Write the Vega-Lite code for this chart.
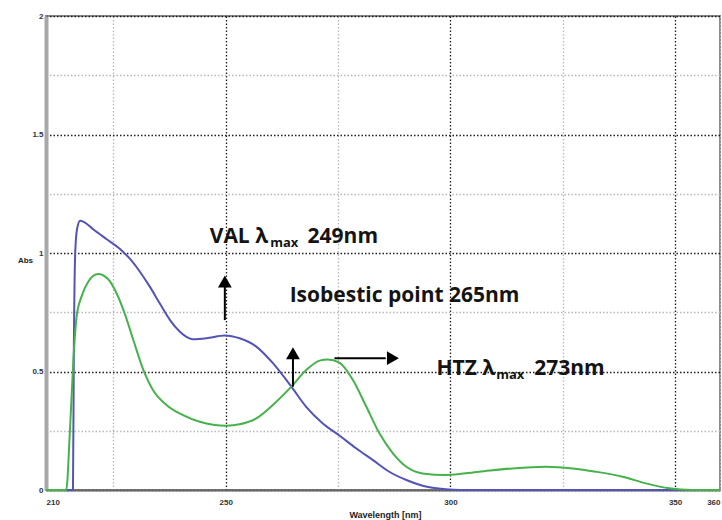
{
  "$schema": "https://vega.github.io/schema/vega-lite/v6.json",
  "width": 674,
  "height": 474,
  "autosize": {"type": "none"},
  "padding": {"left": 46, "top": 16, "right": 2, "bottom": 30},
  "background": "white",
  "config": {
    "view": {"stroke": "#8a8a8a", "strokeWidth": 2},
    "axis": {"labelFont": "Liberation Sans", "labelFontWeight": "bold", "labelFontSize": 8, "labelColor": "#333", "titleFont": "Liberation Sans", "titleFontWeight": "bold", "titleColor": "#222", "titleFontSize": 9}
  },
  "datasets": {
    "spectra": [
      {"wl": 210, "abs": 0, "drug": "VAL"},
      {"wl": 216.0, "abs": 0, "drug": "VAL"},
      {"wl": 216.2, "abs": 0.6, "drug": "VAL"},
      {"wl": 216.5, "abs": 1.0, "drug": "VAL"},
      {"wl": 216.9, "abs": 1.1, "drug": "VAL"},
      {"wl": 217.6, "abs": 1.136, "drug": "VAL"},
      {"wl": 218.5, "abs": 1.13, "drug": "VAL"},
      {"wl": 220.5, "abs": 1.1, "drug": "VAL"},
      {"wl": 223.5, "abs": 1.058, "drug": "VAL"},
      {"wl": 226.4, "abs": 1.018, "drug": "VAL"},
      {"wl": 228.7, "abs": 0.975, "drug": "VAL"},
      {"wl": 230.9, "abs": 0.921, "drug": "VAL"},
      {"wl": 233.1, "abs": 0.858, "drug": "VAL"},
      {"wl": 235.3, "abs": 0.788, "drug": "VAL"},
      {"wl": 237.6, "abs": 0.717, "drug": "VAL"},
      {"wl": 239.8, "abs": 0.668, "drug": "VAL"},
      {"wl": 242.7, "abs": 0.636, "drug": "VAL"},
      {"wl": 245.7, "abs": 0.64, "drug": "VAL"},
      {"wl": 249.8, "abs": 0.652, "drug": "VAL"},
      {"wl": 253.1, "abs": 0.64, "drug": "VAL"},
      {"wl": 256.8, "abs": 0.605, "drug": "VAL"},
      {"wl": 260.5, "abs": 0.535, "drug": "VAL"},
      {"wl": 264.6, "abs": 0.436, "drug": "VAL"},
      {"wl": 267.9, "abs": 0.351, "drug": "VAL"},
      {"wl": 271.6, "abs": 0.281, "drug": "VAL"},
      {"wl": 275.3, "abs": 0.23, "drug": "VAL"},
      {"wl": 279.0, "abs": 0.176, "drug": "VAL"},
      {"wl": 282.7, "abs": 0.127, "drug": "VAL"},
      {"wl": 286.4, "abs": 0.077, "drug": "VAL"},
      {"wl": 290.2, "abs": 0.042, "drug": "VAL"},
      {"wl": 293.8, "abs": 0.018, "drug": "VAL"},
      {"wl": 299.0, "abs": 0.003, "drug": "VAL"},
      {"wl": 302.0, "abs": 0, "drug": "VAL"},
      {"wl": 360, "abs": 0, "drug": "VAL"},
      {"wl": 210, "abs": 0, "drug": "HTZ"},
      {"wl": 214.5, "abs": 0, "drug": "HTZ"},
      {"wl": 215.3, "abs": 0.24, "drug": "HTZ"},
      {"wl": 216.1, "abs": 0.55, "drug": "HTZ"},
      {"wl": 216.8, "abs": 0.73, "drug": "HTZ"},
      {"wl": 217.9, "abs": 0.816, "drug": "HTZ"},
      {"wl": 219.4, "abs": 0.879, "drug": "HTZ"},
      {"wl": 221.6, "abs": 0.911, "drug": "HTZ"},
      {"wl": 223.8, "abs": 0.89, "drug": "HTZ"},
      {"wl": 225.7, "abs": 0.83, "drug": "HTZ"},
      {"wl": 227.6, "abs": 0.74, "drug": "HTZ"},
      {"wl": 229.4, "abs": 0.635, "drug": "HTZ"},
      {"wl": 231.6, "abs": 0.51, "drug": "HTZ"},
      {"wl": 233.8, "abs": 0.422, "drug": "HTZ"},
      {"wl": 236.8, "abs": 0.359, "drug": "HTZ"},
      {"wl": 240.5, "abs": 0.316, "drug": "HTZ"},
      {"wl": 244.2, "abs": 0.288, "drug": "HTZ"},
      {"wl": 250.2, "abs": 0.271, "drug": "HTZ"},
      {"wl": 253.1, "abs": 0.277, "drug": "HTZ"},
      {"wl": 256.8, "abs": 0.302, "drug": "HTZ"},
      {"wl": 260.5, "abs": 0.359, "drug": "HTZ"},
      {"wl": 264.6, "abs": 0.436, "drug": "HTZ"},
      {"wl": 267.9, "abs": 0.506, "drug": "HTZ"},
      {"wl": 270.9, "abs": 0.546, "drug": "HTZ"},
      {"wl": 272.7, "abs": 0.551, "drug": "HTZ"},
      {"wl": 275.3, "abs": 0.537, "drug": "HTZ"},
      {"wl": 278.3, "abs": 0.464, "drug": "HTZ"},
      {"wl": 281.3, "abs": 0.351, "drug": "HTZ"},
      {"wl": 284.2, "abs": 0.239, "drug": "HTZ"},
      {"wl": 287.2, "abs": 0.155, "drug": "HTZ"},
      {"wl": 290.2, "abs": 0.098, "drug": "HTZ"},
      {"wl": 293.8, "abs": 0.07, "drug": "HTZ"},
      {"wl": 299.0, "abs": 0.063, "drug": "HTZ"},
      {"wl": 306.4, "abs": 0.077, "drug": "HTZ"},
      {"wl": 313.8, "abs": 0.091, "drug": "HTZ"},
      {"wl": 321.3, "abs": 0.098, "drug": "HTZ"},
      {"wl": 327.2, "abs": 0.091, "drug": "HTZ"},
      {"wl": 332.4, "abs": 0.077, "drug": "HTZ"},
      {"wl": 338.3, "abs": 0.056, "drug": "HTZ"},
      {"wl": 343.5, "abs": 0.028, "drug": "HTZ"},
      {"wl": 348.7, "abs": 0.007, "drug": "HTZ"},
      {"wl": 353.8, "abs": 0, "drug": "HTZ"},
      {"wl": 360, "abs": 0, "drug": "HTZ"}
    ],
    "shafts": [
      {"wl": 249.8, "wl2": 249.8, "abs": 0.717, "abs2": 0.86},
      {"wl": 264.96, "wl2": 264.96, "abs": 0.436, "abs2": 0.56},
      {"wl": 274.2, "wl2": 285.6, "abs": 0.556, "abs2": 0.556}
    ],
    "headsUp": [
      {"wl": 249.8, "abs": 0.88},
      {"wl": 264.96, "abs": 0.577}
    ],
    "headsRight": [
      {"wl": 287.2, "abs": 0.556}
    ],
    "mainText": [
      {"wl": 246.44, "abs": 1.042, "text": "VAL λ"},
      {"wl": 268.22, "abs": 1.042, "text": "249nm"},
      {"wl": 264.22, "abs": 0.793, "text": "Isobestic point 265nm"},
      {"wl": 296.89, "abs": 0.485, "text": "HTZ λ"},
      {"wl": 318.67, "abs": 0.485, "text": "273nm"}
    ],
    "subText": [
      {"wl": 259.9, "abs": 1.025, "text": "max"},
      {"wl": 310.2, "abs": 0.468, "text": "max"}
    ]
  },
  "layer": [
    {
      "data": {"name": "spectra"},
      "mark": {"type": "line", "strokeWidth": 2, "interpolate": "monotone"},
      "encoding": {
        "x": {
          "field": "wl", "type": "quantitative",
          "scale": {"domain": [210, 360], "nice": false, "zero": false},
          "axis": {
            "values": [210, 225, 250, 275, 300, 325, 350, 360],
            "labelExpr": "(datum.value % 50 === 0 || datum.value === 210 || datum.value === 360) ? '' + datum.value : ''",
            "grid": true,
            "gridColor": {"condition": {"test": "datum.value % 50 === 0", "value": "#1e1e1e"}, "value": "#b8b8b8"},
            "gridDash": [1.5, 2],
            "gridWidth": 1.3,
            "ticks": false,
            "labelPadding": 8,
            "domainColor": "#666666",
            "domainWidth": 2,
            "title": "Wavelength [nm]",
            "titleX": 339,
            "titleY": 24,
            "titleBaseline": "middle",
            "titleAnchor": null
          }
        },
        "y": {
          "field": "abs", "type": "quantitative",
          "scale": {"domain": [0, 2], "nice": false},
          "axis": {
            "values": [0, 0.25, 0.5, 0.75, 1, 1.25, 1.5, 1.75, 2],
            "labelExpr": "datum.value % 0.5 === 0 ? '' + datum.value : ''",
            "grid": true,
            "gridColor": {"condition": {"test": "datum.value % 0.5 === 0", "value": "#1e1e1e"}, "value": "#b8b8b8"},
            "gridDash": [1.5, 2],
            "gridWidth": 1.3,
            "ticks": false,
            "labelPadding": 3,
            "domainColor": "#a8a8a8",
            "domainWidth": 4,
            "title": "Abs",
            "titleAngle": 0,
            "titleX": -21,
            "titleY": 244,
            "titleAlign": "center",
            "titleBaseline": "middle",
            "titleFontSize": 8
          }
        },
        "color": {
          "field": "drug", "type": "nominal",
          "scale": {"domain": ["VAL", "HTZ"], "range": ["#5353b8", "#46b24a"]},
          "legend": null
        },
        "detail": {"field": "drug"}
      }
    },
    {
      "data": {"name": "shafts"},
      "mark": {"type": "rule", "color": "black", "strokeWidth": 2},
      "encoding": {
        "x": {"field": "wl", "type": "quantitative"},
        "x2": {"field": "wl2"},
        "y": {"field": "abs", "type": "quantitative"},
        "y2": {"field": "abs2"}
      }
    },
    {
      "data": {"name": "headsUp"},
      "mark": {"type": "point", "shape": "triangle-up", "filled": true, "color": "black", "size": 190, "opacity": 1},
      "encoding": {
        "x": {"field": "wl", "type": "quantitative"},
        "y": {"field": "abs", "type": "quantitative"}
      }
    },
    {
      "data": {"name": "headsRight"},
      "mark": {"type": "point", "shape": "triangle-right", "filled": true, "color": "black", "size": 190, "opacity": 1},
      "encoding": {
        "x": {"field": "wl", "type": "quantitative"},
        "y": {"field": "abs", "type": "quantitative"}
      }
    },
    {
      "data": {"name": "mainText"},
      "mark": {"type": "text", "align": "left", "baseline": "alphabetic", "font": "Open Sans", "fontWeight": "bold", "fontSize": 21, "color": "#141414"},
      "encoding": {
        "x": {"field": "wl", "type": "quantitative"},
        "y": {"field": "abs", "type": "quantitative"},
        "text": {"field": "text"}
      }
    },
    {
      "data": {"name": "subText"},
      "mark": {"type": "text", "align": "left", "baseline": "alphabetic", "font": "Open Sans", "fontWeight": "bold", "fontSize": 13, "color": "#141414"},
      "encoding": {
        "x": {"field": "wl", "type": "quantitative"},
        "y": {"field": "abs", "type": "quantitative"},
        "text": {"field": "text"}
      }
    }
  ]
}
